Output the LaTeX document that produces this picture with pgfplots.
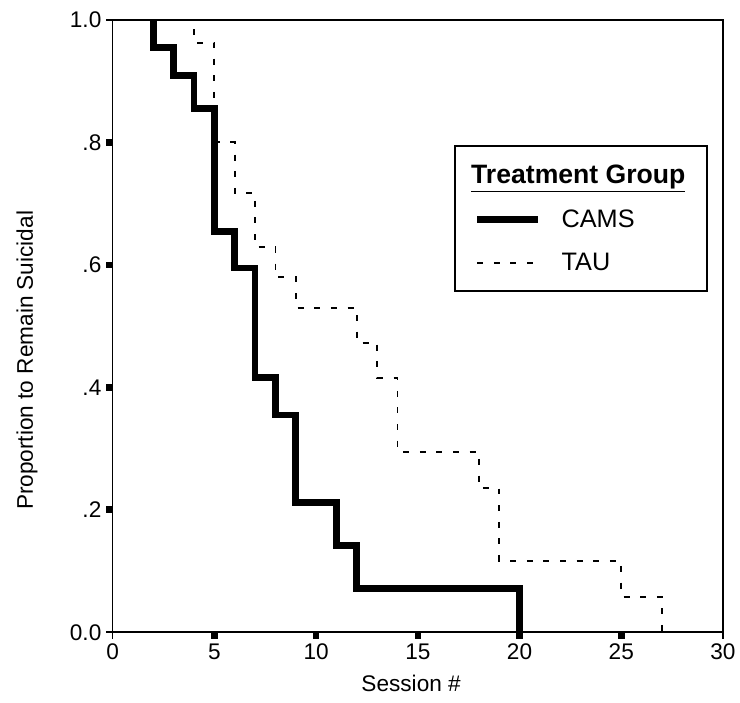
\documentclass[border=0pt]{standalone}
\usepackage{fontspec}
\setmainfont{Liberation Sans}
\usepackage{pgfplots}
\pgfplotsset{compat=1.18}
\begin{document}
\begin{tikzpicture}
\begin{axis}[
  name=ax,
  width=459pt, height=460.5pt, scale only axis,
  xmin=0, xmax=30, ymin=0, ymax=1,
  clip=false,
  axis line style={line width=1.2pt},
  xtick={5,10,15,20,25}, xticklabels={5,10,15,20,25},
  extra x ticks={0,30}, extra x tick labels={0,30},
  ytick={0.2,0.4,0.6,0.8}, yticklabels={.2,.4,.6,.8},
  extra y ticks={0,1}, extra y tick labels={0.0,1.0},
  tick align=outside, tick pos=left,
  major tick length=5pt,
  major tick style={line width=5pt, black},
  extra tick style={major tick style={line width=1.2pt, black}},
  tick label style={font=\fontsize{17}{20}\selectfont},
  xlabel={Session \#},
  ylabel={Proportion to Remain Suicidal},
  label style={font=\fontsize{17}{20}\selectfont},
  xlabel style={at={(rel axis cs:0.489,-0.083)}, anchor=center},
  ylabel style={at={(rel axis cs:-0.1405,0.444)}, anchor=center},
  legend style={at={(rel axis cs:0.56,0.795)}, anchor=north west,
    draw=black, line width=1.2pt,
    column sep=13pt, row sep=14pt, inner xsep=14pt, inner ysep=12pt},
  legend cell align=left,
  legend image code/.code={\draw[#1] (0pt,0pt) -- (46pt,0pt);},
]
\addlegendimage{empty legend}
\addlegendentry{\hspace*{-68pt}\fontsize{20}{23}\selectfont\bfseries\underline{Treatment Group}}

\addplot[const plot, black, line width=5pt] coordinates {
  (2,1) (2,0.955) (3,0.909) (4,0.855) (5,0.655) (6,0.595) (7,0.416)
  (8,0.355) (9,0.212) (11,0.142) (12,0.0715) (20,0)
};
\addlegendentry{\fontsize{19}{22}\selectfont CAMS}

\addplot[const plot, black, line width=1.4pt, dash pattern=on 4.5pt off 8pt] coordinates {
  (2,1) (4,0.963) (5,0.800) (6,0.717) (7,0.629) (8,0.580) (9,0.530)
  (12,0.473) (13,0.415) (14,0.295) (18,0.235) (19,0.117) (25,0.058) (27,0)
};
\addlegendentry{\fontsize{19}{22}\selectfont TAU}
\end{axis}
\path ([shift={(-84.75pt,-52.5pt)}]ax.south west) rectangle ([shift={(11.25pt,15pt)}]ax.north east);
\end{tikzpicture}
\end{document}
